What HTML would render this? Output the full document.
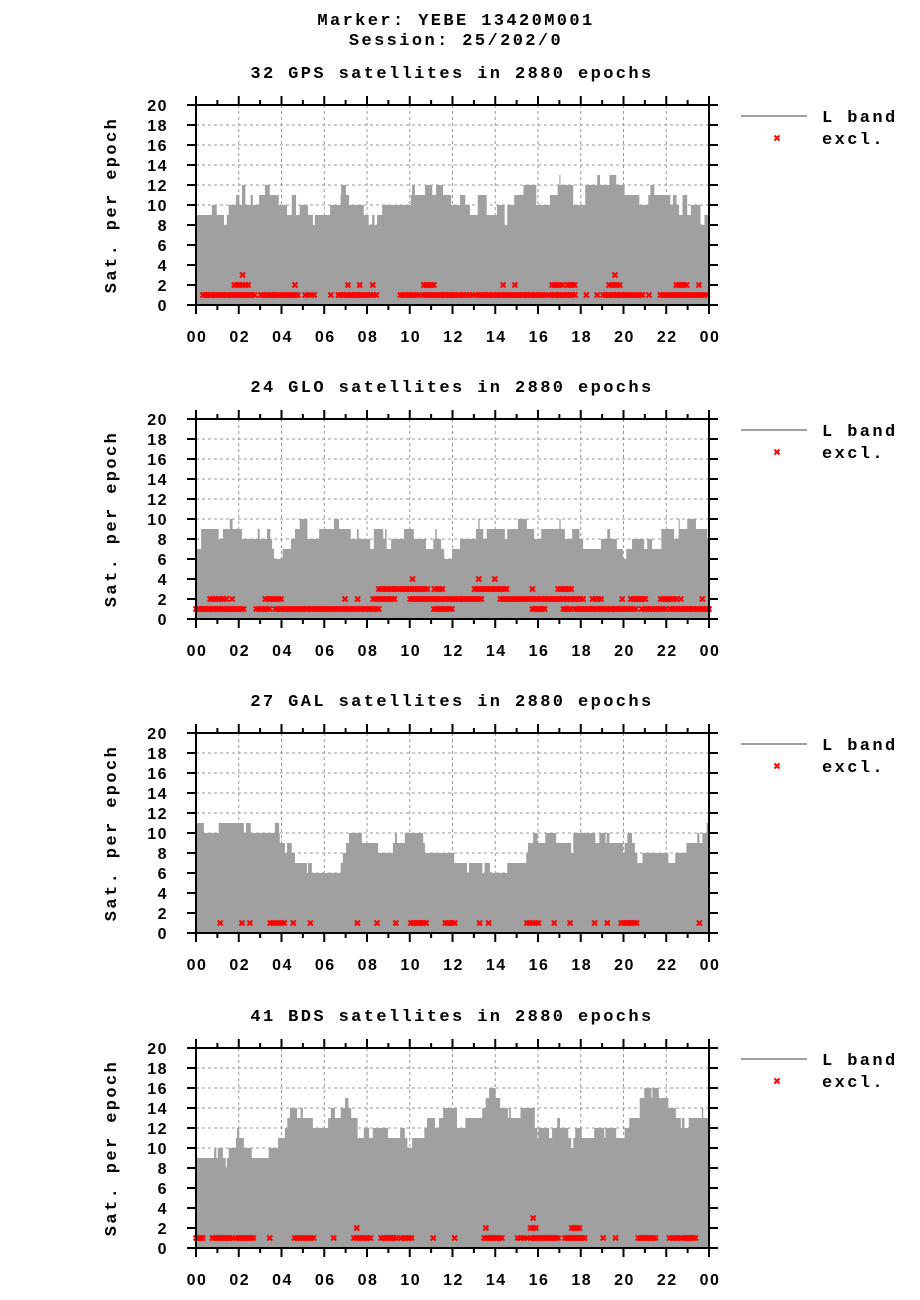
<!DOCTYPE html>
<html><head><meta charset="utf-8">
<style>
body{margin:0;background:#fff;width:920px;height:1300px;overflow:hidden}
svg{display:block}
.mono{font-family:"Liberation Mono",monospace;font-weight:bold;font-size:17px;letter-spacing:2.4px}
.tick{font-family:"Liberation Sans",sans-serif;font-weight:bold;font-size:16px;letter-spacing:1.5px}
</style></head>
<body>
<svg id="chart" width="920" height="1300" xmlns="http://www.w3.org/2000/svg">
<text class="mono" x="456" y="25" text-anchor="middle">Marker: YEBE 13420M001</text>
<text class="mono" x="456" y="45" text-anchor="middle">Session: 25/202/0</text>
</svg>
<script>
// ---- GPS ----
const gpsStart=[0,0.74,0.97,1.31,1.44,1.53,1.87,2.03,2.15,2.31,2.56,2.66,2.95,3.23,3.45,3.87,4.26,4.48,4.68,4.85,5.24,5.47,5.56,6.27,6.76,6.79,7.02,7.16,7.85,8.08,8.24,8.35,8.47,8.71,10.05,10.11,10.24,10.71,11.05,11.23,11.56,11.94,12.35,12.6,12.82,13.18,13.6,14.08,14.44,14.56,14.89,15.32,15.92,16.56,16.92,17.0,17.05,17.65,18.21,18.77,18.9,19.34,19.66,20.05,20.74,21.16,21.26,21.44,22.19,22.31,22.48,22.6,22.76,22.98,23.15,23.6,23.79];
const gpsCount=[9,10,9,8,9,10,11,10,12,10,11,10,11,12,11,10,9,11,9,10,9,8,9,10,11,12,11,10,9,8,9,8,9,10,11,12,11,12,11,12,11,10,11,10,9,11,9,10,8,10,11,12,10,11,12,13,12,10,12,13,12,13,12,11,10,11,12,11,10,11,10,9,11,9,10,8,9];
const gpsExclStart=[0.32,1.47,3.03,5.11,6.31,6.66,7.4,8.03,9.56,10.61,12.27,13.08,16.53,18.26,18.77,19.05,21.19,21.73,1.79,4.63,7.11,7.66,8.27,10.66,14.37,14.92,16.66,17.39,19.32,22.47,23.53,2.18,19.6];
const gpsExclEnd=[1.39,2.74,4.76,5.53,6.31,7.27,7.95,8.44,10.42,12.15,12.92,16.37,17.73,18.26,18.77,20.89,21.19,23.92,2.44,4.63,7.11,7.66,8.27,11.13,14.37,14.92,17.15,17.71,19.82,22.95,23.53,2.18,19.6];
const gpsExclLevel=[1,1,1,1,1,1,1,1,1,1,1,1,1,1,1,1,1,1,2,2,2,2,2,2,2,2,2,2,2,2,2,3,3];
// ---- GLO ----
const gloStart=[0,0.24,1.06,1.26,1.58,1.71,2.15,2.89,2.98,3.32,3.48,3.56,3.65,4.05,4.44,4.63,4.85,5.21,5.76,6.45,6.69,7.24,7.53,7.61,8.15,8.32,8.76,8.85,8.92,9.13,9.73,10.19,10.76,11.1,11.19,11.26,11.47,11.61,11.98,12.35,13.1,13.21,13.27,13.44,13.6,14.45,14.56,15.06,15.48,15.82,16.15,17.0,17.06,17.26,17.6,17.94,18.11,18.95,19.24,19.37,19.69,19.97,20.13,20.4,20.97,21.11,21.34,21.77,22.37,22.58,22.63,22.98,23.39,23.92];
const gloCount=[7,9,8,9,10,9,8,9,8,9,8,7,6,7,8,9,10,8,9,10,9,8,9,8,7,9,8,9,7,8,9,8,7,8,9,8,7,6,7,8,9,10,9,8,9,8,9,10,9,8,9,10,9,8,9,8,7,8,9,8,7,6,7,8,7,8,7,9,8,10,9,10,9,8];
const gloExclStart=[0,2.82,3.71,11.13,15.74,17.19,17.71,20.85,22.19,0.66,1.69,3.24,6.97,7.56,8.29,10.02,14.24,18.55,19.94,20.34,21.74,22.68,23.69,8.55,11.15,13.03,15.74,16.94,10.13,13.23,13.98];
const gloExclEnd=[2.23,3.44,8.55,11.97,16.31,17.52,20.58,21.98,24,1.42,1.69,3.98,6.97,7.56,9.29,13.35,18.11,18.95,19.94,21.02,22.47,22.68,23.69,10.82,11.53,14.53,15.74,17.55,10.13,13.23,13.98];
const gloExclLevel=[1,1,1,1,1,1,1,1,1,2,2,2,2,2,2,2,2,2,2,2,2,2,2,3,3,3,3,3,4,4,4];
// ---- GAL ----
const galStart=[0,0.37,1.06,2.24,2.34,2.56,3.69,3.89,3.92,4.16,4.26,4.48,4.63,5.19,5.24,5.42,6.77,6.87,7.02,7.16,7.76,8.52,9.21,9.31,9.4,9.77,10.63,10.71,12.08,12.68,12.77,13.4,13.5,13.76,14.56,15.45,15.53,15.77,15.98,16.34,16.85,17.55,17.65,18.68,18.87,19.16,19.21,19.34,19.98,20.05,20.18,20.4,20.53,20.65,20.89,22.1,22.42,22.94,23.45,23.55,23.69,23.89];
const galCount=[11,10,11,10,11,10,11,10,9,8,9,8,7,6,7,6,7,8,9,10,9,8,9,10,9,10,9,8,7,6,7,6,7,6,7,8,9,10,9,10,9,8,10,9,10,9,10,9,8,9,10,9,8,7,8,7,8,9,10,9,10,11];
const galExclStart=[1.13,2.15,2.52,3.47,4.55,5.35,7.55,8.47,9.35,10.05,11.66,13.27,13.69,15.48,16.76,17.5,18.65,19.24,19.89,23.55];
const galExclEnd=[1.13,2.15,2.52,4.13,4.55,5.35,7.55,8.47,9.35,10.77,12.1,13.27,13.69,16.02,16.76,17.5,18.65,19.24,20.61,23.55];
const galExclLevel=[1,1,1,1,1,1,1,1,1,1,1,1,1,1,1,1,1,1,1,1];
// ---- BDS ----
const bdsStart=[0,0.85,0.95,1.02,1.26,1.39,1.44,1.53,1.87,1.92,2.02,2.24,2.61,3.4,3.84,4.16,4.27,4.39,4.73,4.89,5.0,5.47,6.18,6.31,6.5,6.77,6.97,7.13,7.26,7.56,7.85,8.1,8.27,8.98,9.55,9.77,9.89,10.11,10.68,10.81,11.18,11.37,11.56,12.21,12.6,13.39,13.55,13.71,14.02,14.23,14.6,14.65,14.73,15.18,15.85,15.97,16.02,16.52,16.66,16.9,17.03,17.42,17.55,17.65,17.74,18.05,18.63,19.1,19.15,19.66,20.05,20.27,20.76,20.97,21.31,21.35,21.65,22.1,22.45,22.68,22.73,22.85,23.05,23.66,23.73];
const bdsCount=[9,10,9,10,9,8,9,10,11,12,11,10,9,10,11,12,13,14,13,14,13,12,13,14,13,14,15,14,13,11,12,11,12,11,12,11,10,11,12,13,12,13,14,12,13,14,15,16,15,14,13,14,13,14,12,11,12,11,12,13,12,11,10,11,12,11,12,11,12,11,12,13,15,16,15,16,15,14,13,12,13,12,13,14,13];
const bdsExclStart=[0,0.77,1.87,3.45,4.61,6.44,7.39,8.66,9.58,11.1,12.1,13.48,15.05,15.65,17.26,19.05,19.63,20.69,22.15,22.81,7.52,13.56,15.65,17.58,15.77];
const bdsExclEnd=[0.31,1.69,2.68,3.45,5.5,6.44,8.16,9.37,10.08,11.1,12.1,14.31,15.47,16.94,18.18,19.05,19.63,21.5,22.66,23.37,7.52,13.56,15.9,17.94,15.77];
const bdsExclLevel=[1,1,1,1,1,1,1,1,1,1,1,1,1,1,1,1,1,1,1,1,2,2,2,2,3];
const yTicks=[0,2,4,6,8,10,12,14,16,18,20];
const xTickLabels=["00","02","04","06","08","10","12","14","16","18","20","22","00"];

const NS="http://www.w3.org/2000/svg";
const svg=document.getElementById('chart');
const X0=196,X1=709,H=200;
function mk(tag,attrs,parent){const e=document.createElementNS(NS,tag);for(const k in attrs)e.setAttribute(k,attrs[k]);(parent||svg).appendChild(e);return e;}

function panel(key,title,top,start,count,eS,eE,eL){
  const g=mk('g',{});
  
  
  const X=h=>X0+(X1-X0)*h/24;
  const Y=v=>top+H-H*v/20;
  const t=mk('text',{x:452,y:top-27,'text-anchor':'middle','class':'mono'},g);
  t.textContent=title;
  
  
  // grid
  for(let v=2;v<20;v+=2){const l=mk('line',{x1:X0,x2:X1,y1:Y(v),y2:Y(v),stroke:'#999','stroke-width':1,'stroke-dasharray':'3,3'},g);
    
    }
  for(let h=2;h<24;h+=2){const l=mk('line',{x1:X(h),x2:X(h),y1:top,y2:top+H,stroke:'#999','stroke-width':1,'stroke-dasharray':'3,3'},g);
    
    }
  // area
  let d='M'+X(0)+','+Y(0);
  for(let i=0;i<start.length;i++){const a=X(start[i]),b=X(i+1<start.length?start[i+1]:24);d+=' L'+a+','+Y(count[i])+' L'+b+','+Y(count[i]);}
  d+=' L'+X(24)+','+Y(0)+'Z';
  const p=mk('path',{d:d,fill:'#a0a0a0',stroke:'none'},g);
  
  
  // excluded
  const eg=mk('g',{stroke:'#ff0000','stroke-width':2},g);
  
  
  for(let i=0;i<eS.length;i++){
    const n=Math.max(0,Math.round((eE[i]-eS[i])/0.12));
    for(let k=0;k<=n;k++){
      const h=n?eS[i]+(eE[i]-eS[i])*k/n:eS[i];
      const cx=X(h),cy=Y(eL[i]);
      const m=mk('path',{d:`M${cx-2.5},${cy-2.5}L${cx+2.5},${cy+2.5}M${cx-2.5},${cy+2.5}L${cx+2.5},${cy-2.5}`},eg);
      
      
    }
  }
  // frame
  const f=mk('rect',{x:X0,y:top,width:X1-X0,height:H,fill:'none',stroke:'#000','stroke-width':2},g);
  
  
  // y ticks
  yTicks.forEach(v=>{
    mk('line',{x1:X0-9,x2:X0,y1:Y(v),y2:Y(v),stroke:'#000','stroke-width':2},g);
    mk('line',{x1:X1,x2:X1+9,y1:Y(v),y2:Y(v),stroke:'#000','stroke-width':2},g);
    const tl=mk('text',{x:168,y:Y(v)+6,'text-anchor':'end','class':'tick'},g);
    tl.textContent=String(v);
    
    
  });
  for(let h=0;h<=24;h++){
    const len=h%2===0?9:5;
    mk('line',{x1:X(h),x2:X(h),y1:top+H,y2:top+H+len,stroke:'#000','stroke-width':2},g);
    mk('line',{x1:X(h),x2:X(h),y1:top-len,y2:top,stroke:'#000','stroke-width':2},g);
    if(h%2===0){const tl=mk('text',{x:X(h)+1,y:top+H+37,'text-anchor':'middle','class':'tick'},g);
      tl.textContent=xTickLabels[h/2];
      
      }
  }
  const yl=mk('text',{x:0,y:0,'text-anchor':'middle','class':'mono',transform:`translate(116,${top+H/2}) rotate(-90)`},g);
  yl.textContent='Sat. per epoch';
  
  
  // legend
  const lg=mk('g',{},g);
  
  
  mk('line',{x1:741,x2:807,y1:top+11,y2:top+11,stroke:'#a0a0a0','stroke-width':2},lg);
  const l1=mk('text',{x:822,y:top+17,'class':'mono'},lg);l1.textContent='L band';
  
  
  const cx=777,cy=top+33;
  mk('path',{d:`M${cx-2.5},${cy-2.5}L${cx+2.5},${cy+2.5}M${cx-2.5},${cy+2.5}L${cx+2.5},${cy-2.5}`,stroke:'#ff0000','stroke-width':2},lg);
  const l2=mk('text',{x:822,y:top+39,'class':'mono'},lg);l2.textContent='excl.';
  
  
}
panel('gps','32 GPS satellites in 2880 epochs',105,gpsStart,gpsCount,gpsExclStart,gpsExclEnd,gpsExclLevel);
panel('glo','24 GLO satellites in 2880 epochs',419,gloStart,gloCount,gloExclStart,gloExclEnd,gloExclLevel);
panel('gal','27 GAL satellites in 2880 epochs',733,galStart,galCount,galExclStart,galExclEnd,galExclLevel);
panel('bds','41 BDS satellites in 2880 epochs',1048,bdsStart,bdsCount,bdsExclStart,bdsExclEnd,bdsExclLevel);
</script>
</body></html>
